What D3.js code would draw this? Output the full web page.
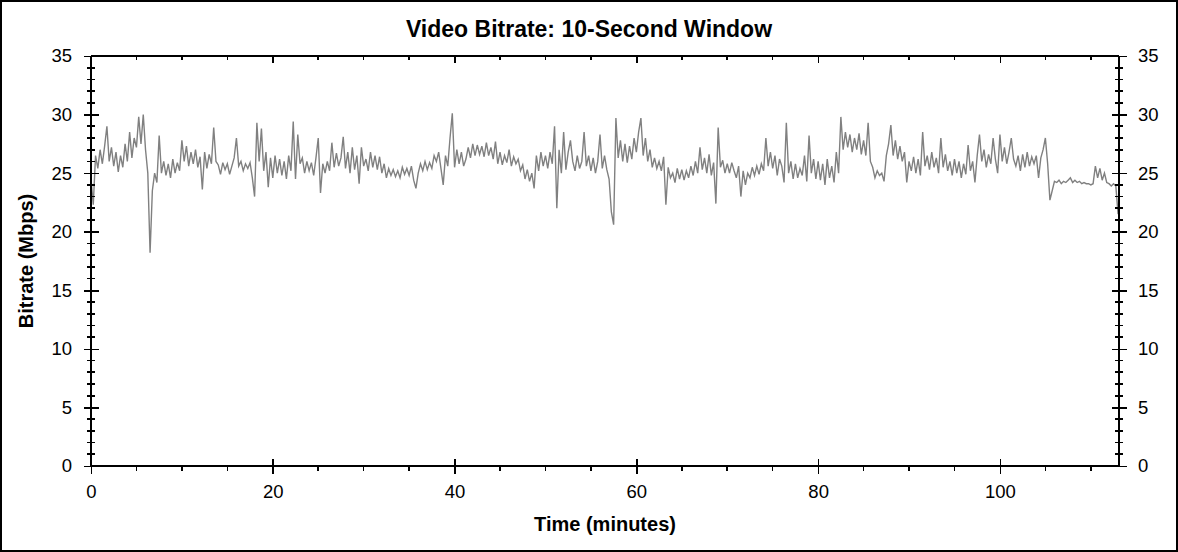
<!DOCTYPE html>
<html>
<head>
<meta charset="utf-8">
<script src="https://cdn.jsdelivr.net/npm/d3@7/dist/d3.min.js"></script>
<style>
  html, body { margin: 0; padding: 0; background: #fff; }
  svg { display: block; }
  text { font-family: "Liberation Sans", Arial, sans-serif; fill: #000; }
</style>
</head>
<body>
<svg id="chart" width="1178" height="552"></svg>
<script>
// ---- Data ----
const chartTitle = "Video Bitrate: 10-Second Window";
const xTitle = "Time (minutes)";
const yTitle = "Bitrate (Mbps)";
const sampleStartMin = 0;      // first sample time (minutes)
const sampleStepMin = 0.25;    // spacing between samples (minutes)
const xDomain = [0, 113.1];
const yDomain = [0, 35];
const xMajorTicks = [0, 20, 40, 60, 80, 100];
const yMajorTicks = [0, 5, 10, 15, 20, 25, 30, 35];

// bitrate (Mbps), one value every 0.25 minute
const bitrate = [
  24.5,22.3,26.5,25.4,27.0,25.8,27.3,29.0,26.0,27.2,25.6,26.8,25.1,26.5,25.5,27.5,26.0,28.5,26.3,28.0,
  27.2,29.8,27.5,30.0,27.0,25.0,18.2,23.5,25.0,24.2,28.2,25.0,26.0,24.8,25.8,24.6,26.2,25.0,25.9,25.2,
  27.8,26.0,27.3,25.6,26.8,25.8,27.0,25.5,26.4,23.6,26.8,25.4,26.6,25.8,28.9,26.0,25.7,24.9,25.9,25.3,
  25.8,24.9,25.6,26.3,28.0,25.6,26.0,25.2,25.8,25.4,25.9,24.6,23.0,29.3,26.0,28.8,25.2,26.8,23.8,26.3,
  24.6,26.5,25.0,26.2,24.8,26.0,24.5,26.5,25.2,29.4,24.5,28.3,25.8,26.3,25.0,26.0,25.2,25.9,24.8,26.3,
  28.0,23.3,25.8,25.0,26.0,25.2,27.6,25.5,26.7,25.6,26.3,28.1,25.4,26.8,25.0,27.2,25.3,26.5,24.1,27.2,
  25.6,26.2,25.2,26.8,25.5,26.5,25.3,26.4,25.0,25.8,24.6,25.4,24.8,25.3,24.7,25.2,24.6,25.5,24.9,25.4,
  24.8,25.6,24.4,23.7,25.0,25.8,25.2,26.0,25.3,25.9,25.4,26.5,26.0,26.8,25.4,24.0,26.5,25.6,28.0,30.1,
  25.5,27.0,25.8,26.8,25.6,26.2,27.2,26.3,27.5,26.5,27.4,26.6,27.3,26.4,27.6,26.5,27.2,26.2,27.7,25.8,
  26.8,25.7,26.5,25.9,27.0,25.6,26.4,25.8,26.2,25.2,25.7,24.5,25.3,24.3,25.0,23.7,26.5,25.2,26.8,25.6,
  26.5,25.4,26.8,25.8,29.0,22.0,27.0,25.0,28.5,25.3,26.8,27.8,26.0,25.2,26.5,25.4,26.0,28.5,25.6,26.5,
  25.2,26.3,25.0,26.0,28.3,25.4,26.5,25.3,24.5,21.7,20.6,29.7,26.3,27.8,26.0,27.5,25.9,27.3,26.2,28.0,
  26.8,28.5,29.7,26.5,28.0,26.0,27.0,25.5,26.3,25.4,26.0,25.2,26.4,22.3,25.5,24.6,25.0,24.2,25.4,24.5,
  25.3,24.4,25.2,24.6,25.6,24.8,26.0,25.0,27.2,25.3,26.3,25.0,26.6,24.8,25.9,22.4,28.9,25.5,26.1,25.0,
  25.8,25.0,25.9,25.2,24.6,25.6,23.0,25.2,24.0,25.0,24.6,25.5,24.8,25.6,24.9,25.8,25.2,28.0,25.6,26.8,
  25.4,26.5,24.8,26.2,25.6,24.2,29.3,25.0,26.0,24.5,25.8,24.6,25.4,24.8,26.5,24.3,28.2,25.0,26.2,24.5,
  26.0,24.4,25.8,24.0,26.2,24.6,25.6,24.2,26.8,25.0,29.8,27.0,28.5,27.2,28.3,26.8,28.0,27.0,28.4,26.6,
  27.8,26.5,29.3,26.0,25.5,24.6,25.2,24.8,25.0,24.3,26.5,27.5,29.1,26.5,27.8,26.2,27.3,26.0,26.8,24.2,
  26.0,25.2,26.4,25.0,26.2,24.8,28.5,25.6,26.5,25.3,26.8,25.5,26.3,25.0,28.0,25.5,26.6,25.2,26.0,24.8,
  26.2,25.0,26.0,24.6,25.8,24.9,27.4,25.2,26.0,24.2,26.5,28.3,26.0,27.0,25.5,26.6,25.8,28.0,26.2,25.0,
  28.3,26.0,27.2,25.8,26.8,28.0,26.2,25.6,26.5,25.2,26.6,25.5,26.8,25.6,26.4,25.8,26.5,24.6,26.3,27.0,
  28.0,25.8,22.7,23.5,24.3,24.2,24.4,24.1,24.3,24.2,24.4,24.6,24.2,24.4,24.2,24.3,24.1,24.2,24.1,24.1,
  24.0,24.1,25.6,24.6,25.4,24.4,25.0,24.2,24.1,23.9,24.1,23.9,21.5
];

// ---- Layout ----
const W = 1178, H = 552;
const plot = { left: 91, right: 1119, top: 56, bottom: 466 };

const svg = d3.select("#chart");

// outer border
svg.append("rect")
  .attr("x", 1).attr("y", 1).attr("width", W - 2).attr("height", H - 2)
  .attr("fill", "#fff").attr("stroke", "#000").attr("stroke-width", 2);

const x = d3.scaleLinear().domain(xDomain).range([plot.left, plot.right]);
const y = d3.scaleLinear().domain(yDomain).range([plot.bottom, plot.top]);

// minor tick values
const xMinor = d3.range(0, xDomain[1], 5).filter(v => v % 20 !== 0);
const yMinor = d3.range(0, 35, 1).filter(v => v % 5 !== 0);

// data line
const pts = bitrate.map((v, i) => [sampleStartMin + i * sampleStepMin, v]);
const line = d3.line().x(d => x(d[0])).y(d => y(d[1]));
svg.append("path")
  .datum(pts)
  .attr("d", line)
  .attr("fill", "none")
  .attr("stroke", "#808080")
  .attr("stroke-width", 1.4)
  .attr("stroke-linejoin", "miter");

// frame
const frame = svg.append("g").attr("stroke", "#000").attr("stroke-width", 1.6).attr("shape-rendering", "crispEdges");
frame.append("line").attr("x1", plot.left).attr("x2", plot.right).attr("y1", plot.top).attr("y2", plot.top);
frame.append("line").attr("x1", plot.left).attr("x2", plot.right).attr("y1", plot.bottom).attr("y2", plot.bottom);
frame.append("line").attr("x1", plot.left).attr("x2", plot.left).attr("y1", plot.top).attr("y2", plot.bottom);
frame.append("line").attr("x1", plot.right).attr("x2", plot.right).attr("y1", plot.top).attr("y2", plot.bottom);

const tickStyle = g => g.attr("stroke", "#000").attr("stroke-width", 1.6).attr("shape-rendering", "crispEdges");
const fontSize = 18.5;

// Bottom axis (labels + major ticks)
const gx = svg.append("g")
  .attr("transform", `translate(0,${plot.bottom})`)
  .call(d3.axisBottom(x).tickValues(xMajorTicks).tickFormat(d3.format("d")).tickSize(8).tickPadding(10).tickSizeOuter(0));
gx.select(".domain").remove();
gx.selectAll(".tick line").attr("y1", d => d === 0 ? 0 : -7).attr("y2", 8).call(tickStyle);
gx.selectAll(".tick text").attr("font-size", fontSize).attr("font-family", "Liberation Sans, Arial, sans-serif").attr("fill", "#000").attr("dy", "0.71em").attr("y", 19);
// bottom minor ticks
svg.append("g").selectAll("line").data(xMinor).join("line")
  .attr("x1", d => x(d)).attr("x2", d => x(d))
  .attr("y1", plot.bottom).attr("y2", plot.bottom + 5).call(tickStyle);

// Top axis (ticks inward)
const gxt = svg.append("g")
  .attr("transform", `translate(0,${plot.top})`)
  .call(d3.axisTop(x).tickValues(xMajorTicks.filter(v => v > 0)).tickFormat("").tickSize(-7).tickSizeOuter(0));
gxt.select(".domain").remove();
gxt.selectAll(".tick line").call(tickStyle);
svg.append("g").selectAll("line").data(xMinor).join("line")
  .attr("x1", d => x(d)).attr("x2", d => x(d))
  .attr("y1", plot.top).attr("y2", plot.top + 4).call(tickStyle);

// Left axis
const gy = svg.append("g")
  .attr("transform", `translate(${plot.left},0)`)
  .call(d3.axisLeft(y).tickValues(yMajorTicks).tickFormat(d3.format("d")).tickSize(7).tickPadding(12).tickSizeOuter(0));
gy.select(".domain").remove();
gy.selectAll(".tick line").attr("x1", -7).attr("x2", 8).call(tickStyle);
gy.selectAll(".tick text").attr("font-size", fontSize).attr("font-family", "Liberation Sans, Arial, sans-serif").attr("fill", "#000").attr("x", -19);
svg.append("g").selectAll("line").data(yMinor).join("line")
  .attr("x1", plot.left - 4).attr("x2", plot.left + 4)
  .attr("y1", d => y(d)).attr("y2", d => y(d)).call(tickStyle);

// Right axis
const gyr = svg.append("g")
  .attr("transform", `translate(${plot.right},0)`)
  .call(d3.axisRight(y).tickValues(yMajorTicks).tickFormat(d3.format("d")).tickSize(8).tickPadding(12).tickSizeOuter(0));
gyr.select(".domain").remove();
gyr.selectAll(".tick line").attr("x1", -7).attr("x2", 8).call(tickStyle);
gyr.selectAll(".tick text").attr("font-size", fontSize).attr("font-family", "Liberation Sans, Arial, sans-serif").attr("fill", "#000").attr("x", 19);
svg.append("g").selectAll("line").data(yMinor).join("line")
  .attr("x1", plot.right - 4).attr("x2", plot.right + 4)
  .attr("y1", d => y(d)).attr("y2", d => y(d)).call(tickStyle);

// Titles
svg.append("text")
  .attr("x", W / 2).attr("y", 36.5)
  .attr("text-anchor", "middle")
  .attr("font-size", 23).attr("font-weight", "bold")
  .text(chartTitle);

svg.append("text")
  .attr("x", (plot.left + plot.right) / 2).attr("y", 531)
  .attr("text-anchor", "middle")
  .attr("font-size", 20).attr("font-weight", "bold")
  .text(xTitle);

svg.append("text")
  .attr("transform", `translate(32.5,${(plot.top + plot.bottom) / 2}) rotate(-90)`)
  .attr("text-anchor", "middle")
  .attr("font-size", 20).attr("font-weight", "bold")
  .text(yTitle);
</script>
</body>
</html>
